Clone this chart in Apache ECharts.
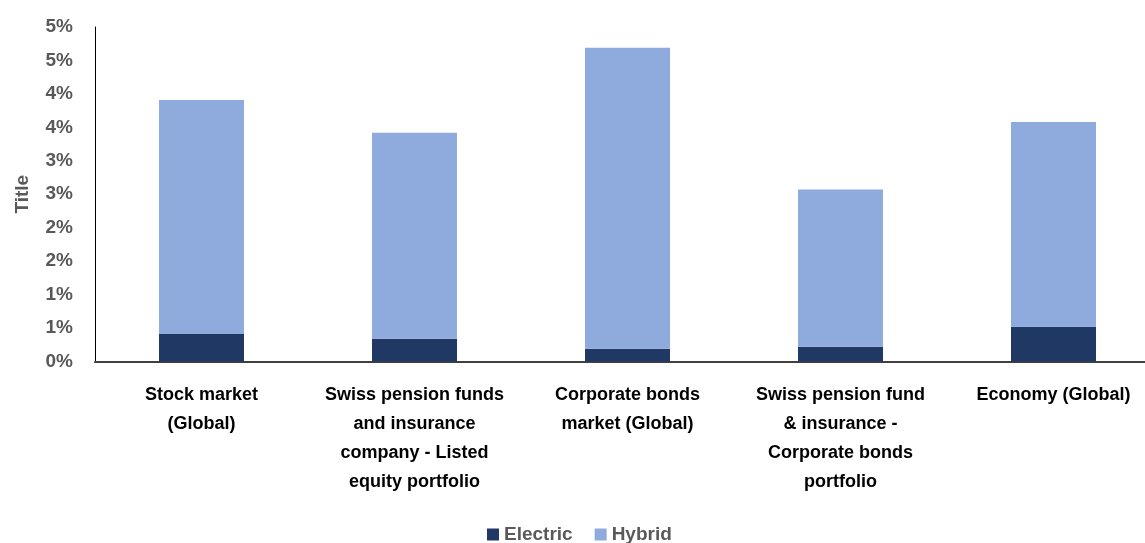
<!DOCTYPE html>
<html>
<head>
<meta charset="utf-8">
<script src="https://cdn.jsdelivr.net/npm/echarts@6/dist/echarts.min.js"></script>
<style>html,body{margin:0;padding:0;background:#fff;overflow:hidden}#c{width:1160px;height:543px}</style>
</head>
<body>
<div id="c"></div>
<script>
var categories = [
  "Stock market\n(Global)",
  "Swiss pension funds\nand insurance\ncompany - Listed\nequity portfolio",
  "Corporate bonds\nmarket (Global)",
  "Swiss pension fund\n& insurance -\nCorporate bonds\nportfolio",
  "Economy (Global)"
];
var electric = [0.41, 0.34, 0.19, 0.22, 0.52];
var hybrid = [3.50, 3.08, 4.50, 2.35, 3.06];
var yTicks = {min: 0, max: 5, interval: 0.5};

var FONT = '"Liberation Sans", Arial, sans-serif';
var chart = echarts.init(document.getElementById('c'));
chart.setOption({
  animation: false,
  grid: {left: 95, right: 0, top: 27, bottom: 181.5, containLabel: false},
  legend: {
    bottom: -6, left: 482, itemWidth: 12, itemHeight: 12, itemGap: 22,
    icon: 'rect',
    textStyle: {fontFamily: FONT, fontSize: 19, fontWeight: 'bold', color: '#595959'},
    data: ['Electric', 'Hybrid']
  },
  xAxis: {
    type: 'category', data: categories,
    axisLine: {lineStyle: {color: '#404040', width: 2}},
    axisTick: {show: false},
    axisLabel: {interval: 0, margin: 19, fontFamily: FONT, fontSize: 18, fontWeight: 'bold', color: '#000', lineHeight: 29}
  },
  yAxis: {
    type: 'value', min: yTicks.min, max: yTicks.max, interval: yTicks.interval,
    name: 'Title', nameLocation: 'middle', nameGap: 63, nameRotate: 90,
    nameTextStyle: {fontFamily: FONT, fontSize: 19, fontWeight: 'bold', color: '#595959'},
    axisLine: {show: true, lineStyle: {color: '#000', width: 1}},
    axisTick: {show: false},
    splitLine: {show: false},
    axisLabel: {margin: 22, fontFamily: FONT, fontSize: 19, fontWeight: 'bold', color: '#595959',
      formatter: function (v) { return Math.round(v) + '%'; }}
  },
  series: [
    {name: 'Electric', type: 'bar', stack: 't', data: electric, barWidth: 85, itemStyle: {color: '#1F3864'}},
    {name: 'Hybrid', type: 'bar', stack: 't', data: hybrid, barWidth: 85, itemStyle: {color: '#8FAADC'}}
  ]
});
</script>
</body>
</html>
